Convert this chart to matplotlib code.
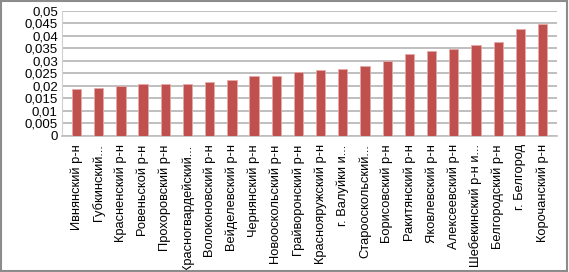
import matplotlib.pyplot as plt
from matplotlib.patches import Rectangle
from matplotlib.ticker import FuncFormatter

districts = ['Ивнянский р-н', 'Губкинский...', 'Красненский р-н', 'Ровеньской р-н',
             'Прохоровский р-н', 'Красногвардейский...', 'Волоконовский р-н',
             'Вейделевский р-н', 'Чернянский р-н', 'Новооскольский р-н',
             'Грайворонский р-н', 'Краснояружский р-н', 'г. Валуйки и...',
             'Старооскольский...', 'Борисовский р-н', 'Ракитянский р-н',
             'Яковлевский р-н', 'Алексеевский р-н', 'Шебекинский р-н и...',
             'Белгородский р-н', 'г. Белгород', 'Корочанский р-н']
values = [0.0187, 0.0193, 0.0201, 0.0209, 0.0209, 0.0209, 0.0217, 0.0225,
          0.0240, 0.0241, 0.0255, 0.0263, 0.0268, 0.0280, 0.0300, 0.0327,
          0.0340, 0.0348, 0.0363, 0.0377, 0.0428, 0.0448]
yticks = [0, 0.005, 0.01, 0.015, 0.02, 0.025, 0.03, 0.035, 0.04, 0.045, 0.05]

plt.rcParams['font.family'] = ['Liberation Sans Narrow', 'Liberation Sans', 'DejaVu Sans']

fig = plt.figure(figsize=(5.69, 2.72), dpi=100)
ax = fig.add_axes([0.109, 0.5, 0.870, 0.46])

x = range(len(values))
ax.bar(x, values, width=0.42, color='#C0504D', edgecolor='#E6A9A7', linewidth=0.6, zorder=3)

ax.set_ylim(0, 0.05)
ax.set_xlim(-0.65, len(values) - 0.35)
ax.set_yticks(yticks)
ax.yaxis.set_major_formatter(FuncFormatter(lambda v, p: ('%g' % round(v, 3)).replace('.', ',')))
ax.grid(axis='y', color='#BFBFBF', linewidth=1.4, zorder=0)
ax.set_xticks(list(x))
ax.set_xticklabels(districts, rotation=90, fontsize=9.3)
ax.tick_params(axis='y', labelsize=9.5, length=0, pad=3)
ax.tick_params(axis='x', length=0, pad=6)

for side in ['top', 'right']:
    ax.spines[side].set_visible(False)
ax.spines['left'].set_color('#D0D0D0')
ax.spines['bottom'].set_color('#BFBFBF')
ax.spines['bottom'].set_linewidth(1.2)

fig.patches.append(Rectangle((0.002, 0.004), 0.995, 0.992, transform=fig.transFigure,
                             fill=False, edgecolor='#8C8C8C', linewidth=1.5))

fig.savefig('out.png', dpi=100)
